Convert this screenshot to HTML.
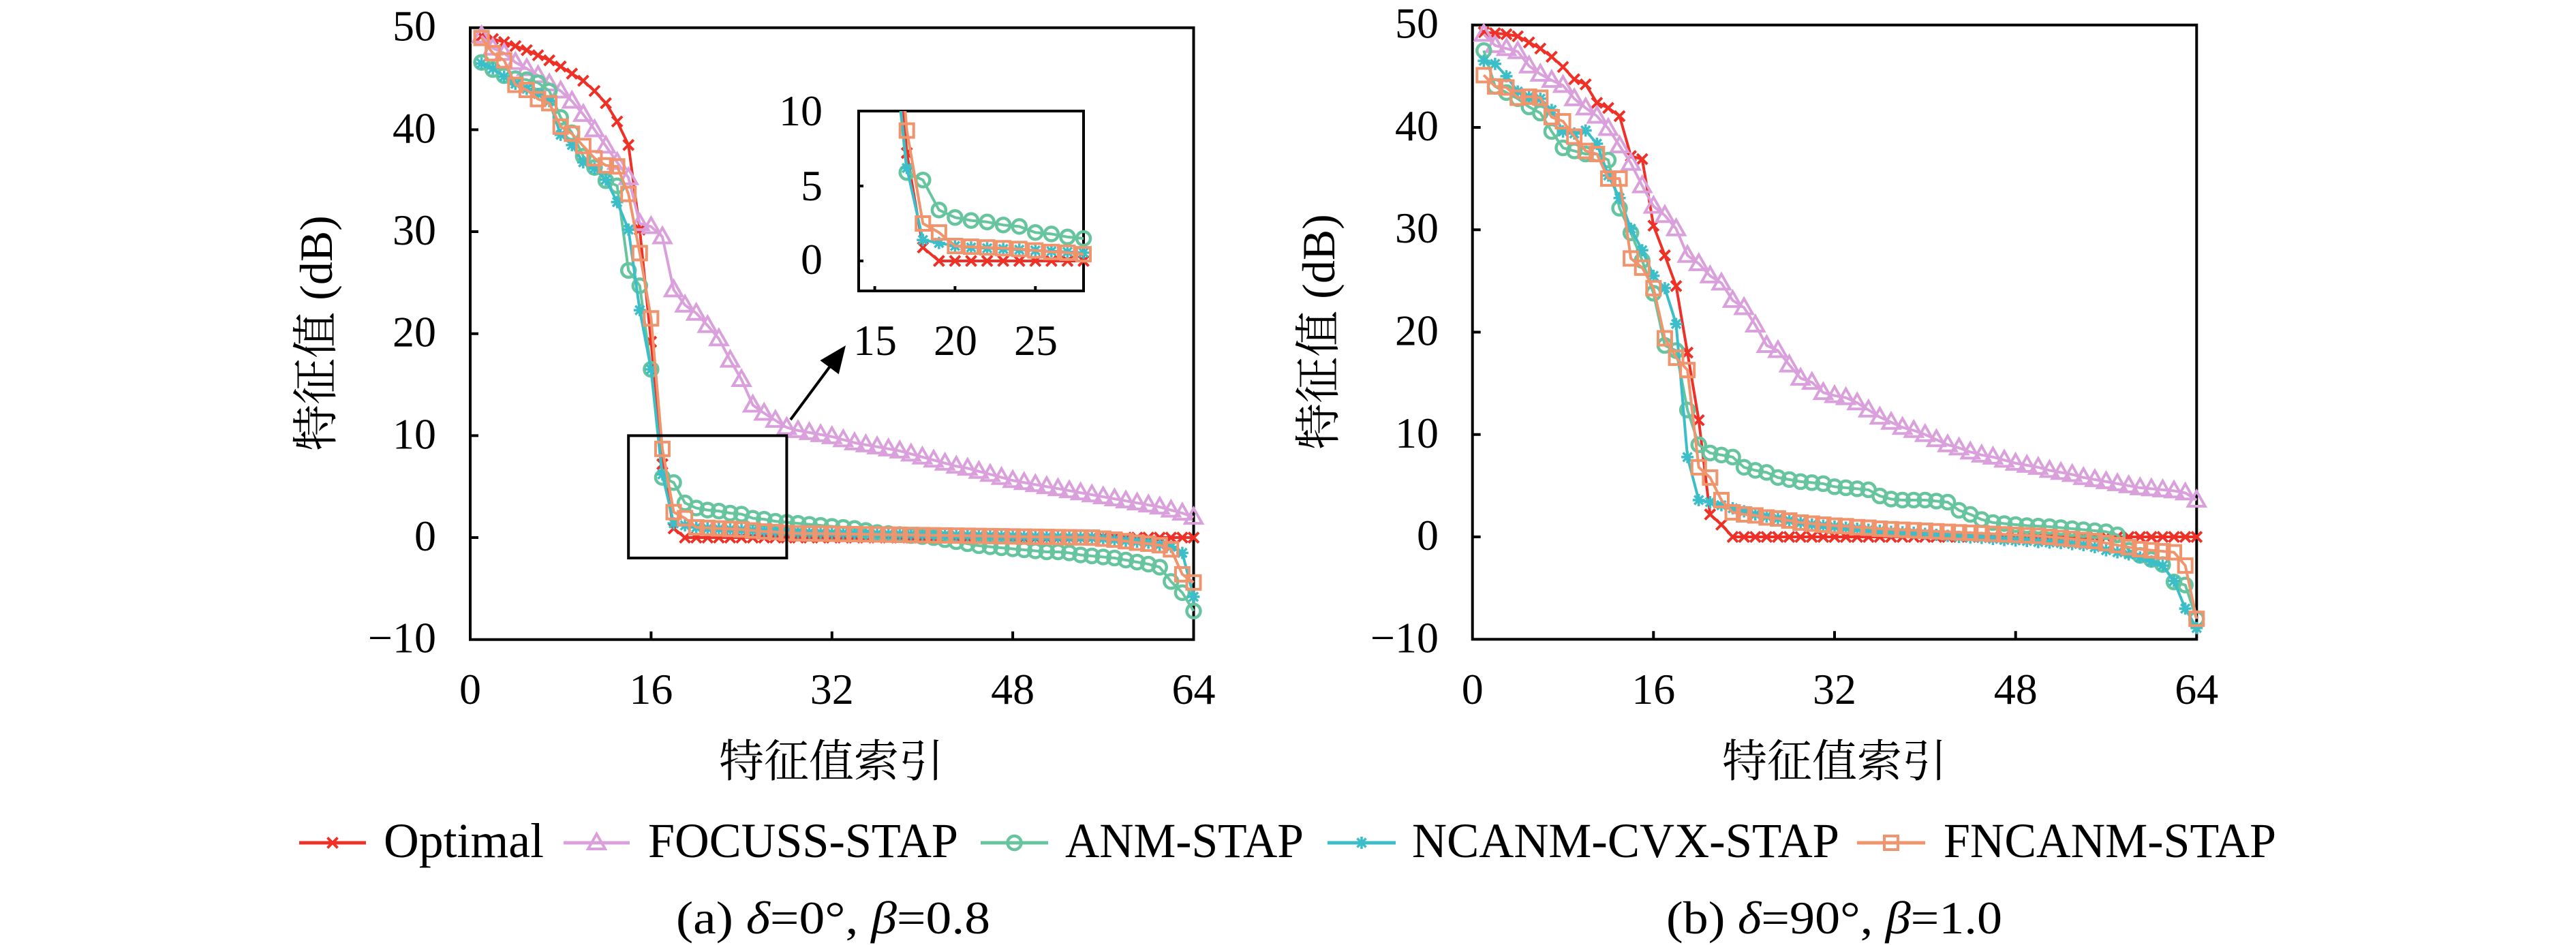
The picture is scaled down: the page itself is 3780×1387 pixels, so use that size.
<!DOCTYPE html>
<html><head><meta charset="utf-8">
<style>
html,body{margin:0;padding:0;background:#fff;}
svg{display:block;}
</style></head><body>
<svg id="s" xmlns="http://www.w3.org/2000/svg" width="3780" height="1387" viewBox="0 0 3780 1387" font-family="'Liberation Serif', serif">
<defs><clipPath id="ci"><rect x="1260" y="163" width="330" height="264"/></clipPath></defs>
<rect width="3780" height="1387" fill="#fff"/>

<!-- Left axes -->
<g stroke="#000" stroke-width="4" fill="none">
<rect x="690" y="40.7" width="1061.5" height="898"/>
<path d="M690 190.4h12M690 340h12M690 489.7h12M690 639.4h12M690 789h12"/>
<path d="M955.4 938.7v-12M1220.8 938.7v-12M1486.1 938.7v-12"/>
</g>
<g font-size="64" text-anchor="end" font-family="'Liberation Serif', serif">
<text x="640" y="59.7" font-family="'Liberation Serif', serif">50</text><text x="640" y="209.4" font-family="'Liberation Serif', serif">40</text><text x="640" y="359" font-family="'Liberation Serif', serif">30</text>
<text x="640" y="508.7" font-family="'Liberation Serif', serif">20</text><text x="640" y="658.4" font-family="'Liberation Serif', serif">10</text><text x="640" y="808" font-family="'Liberation Serif', serif">0</text>
<text x="640" y="957.7" font-family="'Liberation Serif', serif">−10</text>
</g>
<g font-size="64" text-anchor="middle" font-family="'Liberation Serif', serif">
<text x="690" y="1033" font-family="'Liberation Serif', serif">0</text><text x="955.4" y="1033" font-family="'Liberation Serif', serif">16</text><text x="1220.8" y="1033" font-family="'Liberation Serif', serif">32</text>
<text x="1486.1" y="1033" font-family="'Liberation Serif', serif">48</text><text x="1751.5" y="1033" font-family="'Liberation Serif', serif">64</text>
</g>
<g id="gA"></g>

<!-- Right axes -->
<g stroke="#000" stroke-width="4" fill="none">
<rect x="2160.7" y="36.7" width="1062.6" height="901.6"/>
<path d="M2160.7 187h12M2160.7 337.2h12M2160.7 487.5h12M2160.7 637.8h12M2160.7 788h12"/>
<path d="M2426.3 938.3v-12M2692 938.3v-12M2957.7 938.3v-12"/>
</g>
<g font-size="64" text-anchor="end" font-family="'Liberation Serif', serif">
<text x="2111" y="55.7" font-family="'Liberation Serif', serif">50</text><text x="2111" y="206" font-family="'Liberation Serif', serif">40</text><text x="2111" y="356.2" font-family="'Liberation Serif', serif">30</text>
<text x="2111" y="506.5" font-family="'Liberation Serif', serif">20</text><text x="2111" y="656.8" font-family="'Liberation Serif', serif">10</text><text x="2111" y="807" font-family="'Liberation Serif', serif">0</text>
<text x="2111" y="957.3" font-family="'Liberation Serif', serif">−10</text>
</g>
<g font-size="64" text-anchor="middle" font-family="'Liberation Serif', serif">
<text x="2160.7" y="1033" font-family="'Liberation Serif', serif">0</text><text x="2426.3" y="1033" font-family="'Liberation Serif', serif">16</text><text x="2692" y="1033" font-family="'Liberation Serif', serif">32</text>
<text x="2957.7" y="1033" font-family="'Liberation Serif', serif">48</text><text x="3223.3" y="1033" font-family="'Liberation Serif', serif">64</text>
</g>
<g id="gB"></g>

<!-- Inset -->
<rect x="1260" y="163" width="330" height="264" fill="#fff"/>
<g stroke="#000" stroke-width="4" fill="none">
<rect x="1260" y="163" width="330" height="264"/>
<path d="M1283.6 427v-7M1401.4 427v-7M1519.3 427v-7M1260 383h7M1260 273h7"/>
</g>
<g font-size="64" text-anchor="end" font-family="'Liberation Serif', serif">
<text x="1207" y="184" font-family="'Liberation Serif', serif">10</text><text x="1207" y="294" font-family="'Liberation Serif', serif">5</text><text x="1207" y="402" font-family="'Liberation Serif', serif">0</text>
</g>
<g font-size="64" text-anchor="middle" font-family="'Liberation Serif', serif">
<text x="1284" y="521" font-family="'Liberation Serif', serif">15</text><text x="1402" y="521" font-family="'Liberation Serif', serif">20</text><text x="1520" y="521" font-family="'Liberation Serif', serif">25</text>
</g>
<g id="gI"></g>

<!-- zoom rect and arrow -->
<rect x="922.2" y="639.4" width="232.2" height="179.6" fill="none" stroke="#000" stroke-width="4"/>
<line x1="1160" y1="616" x2="1220" y2="535" stroke="#000" stroke-width="4"/>
<polygon points="1241,507 1230.75,549.24 1203.45,528.96" fill="#000"/>

<!-- axis labels -->
<text x="1220" y="1140" font-size="66" text-anchor="middle" font-family="'Liberation Serif', 'Noto Serif CJK SC', serif">特征值索引</text>
<text x="2692" y="1140" font-size="66" text-anchor="middle" font-family="'Liberation Serif', 'Noto Serif CJK SC', serif">特征值索引</text>
<text transform="translate(462,489) rotate(-90)" x="0" y="25" font-size="68" text-anchor="middle" font-family="'Liberation Serif', 'Noto Serif CJK SC', serif">特征值 (dB)</text>
<text transform="translate(1933,487) rotate(-90)" x="0" y="25" font-size="68" text-anchor="middle" font-family="'Liberation Serif', 'Noto Serif CJK SC', serif">特征值 (dB)</text>

<!-- legend -->
<g stroke-width="5">
<line x1="439" y1="1237" x2="537" y2="1237" stroke="#ee3026"/>
<line x1="827" y1="1237" x2="924" y2="1237" stroke="#d9a0db"/>
<line x1="1439" y1="1237" x2="1538" y2="1237" stroke="#66c49e"/>
<line x1="1948" y1="1237" x2="2048" y2="1237" stroke="#3bbec8"/>
<line x1="2725" y1="1237" x2="2825" y2="1237" stroke="#ef946c"/>
</g>
<g id="gL"></g>
<g font-size="72" font-family="'Liberation Serif', serif">
<text x="563" y="1258" textLength="235" lengthAdjust="spacingAndGlyphs" font-family="'Liberation Serif', serif">Optimal</text>
<text x="951" y="1258" textLength="455" lengthAdjust="spacingAndGlyphs" font-family="'Liberation Serif', serif">FOCUSS-STAP</text>
<text x="1563" y="1258" textLength="350" lengthAdjust="spacingAndGlyphs" font-family="'Liberation Serif', serif">ANM-STAP</text>
<text x="2072" y="1258" textLength="627" lengthAdjust="spacingAndGlyphs" font-family="'Liberation Serif', serif">NCANM-CVX-STAP</text>
<text x="2852" y="1258" textLength="488" lengthAdjust="spacingAndGlyphs" font-family="'Liberation Serif', serif">FNCANM-STAP</text>
</g>

<!-- captions -->
<text x="992" y="1370" font-size="68" textLength="461" lengthAdjust="spacingAndGlyphs" font-family="'Liberation Serif', serif">(a) <tspan font-style="italic">δ</tspan>=0°, <tspan font-style="italic">β</tspan>=0.8</text>
<text x="2445" y="1370" font-size="68" textLength="493" lengthAdjust="spacingAndGlyphs" font-family="'Liberation Serif', serif">(b) <tspan font-style="italic">δ</tspan>=90°, <tspan font-style="italic">β</tspan>=1.0</text>
</svg>

<script>
(function(){
var NS='http://www.w3.org/2000/svg';
function mk(tag,a,p){var e=document.createElementNS(NS,tag);for(var k in a)e.setAttribute(k,a[k]);p.appendChild(e);return e;}
function lin(a,b,n){var r=[];for(var i=0;i<n;i++)r.push(a+(b-a)*i/(n-1));return r;}
function z(n){var r=[];for(var i=0;i<n;i++)r.push(0);return r;}
var C={x:'#ee3026',t:'#d9a0db',o:'#66c49e',a:'#3bbec8',s:'#ef946c'};
function marker(g,type,x,y){
  var col=C[type];
  if(type==='x'){var s=7.5;mk('path',{d:'M'+(x-s)+' '+(y-s)+'L'+(x+s)+' '+(y+s)+'M'+(x-s)+' '+(y+s)+'L'+(x+s)+' '+(y-s),stroke:col,'stroke-width':4,fill:'none'},g);}
  else if(type==='t'){mk('path',{d:'M'+x+' '+(y-13)+'L'+(x+12.5)+' '+(y+9)+'L'+(x-12.5)+' '+(y+9)+'Z',stroke:col,'stroke-width':4,fill:'none'},g);}
  else if(type==='o'){mk('circle',{cx:x,cy:y,r:10,stroke:col,'stroke-width':4.5,fill:'none'},g);}
  else if(type==='a'){var s2=9,d=6.5;mk('path',{d:'M'+(x-s2)+' '+y+'H'+(x+s2)+'M'+x+' '+(y-s2)+'V'+(y+s2)+'M'+(x-d)+' '+(y-d)+'L'+(x+d)+' '+(y+d)+'M'+(x-d)+' '+(y+d)+'L'+(x+d)+' '+(y-d),stroke:col,'stroke-width':3.5,fill:'none'},g);}
  else if(type==='s'){var s3=10;mk('rect',{x:x-s3,y:y-s3,width:2*s3,height:2*s3,stroke:col,'stroke-width':4,fill:'none'},g);}
}
var A={
 x:[49.2,48.9,48.6,48.2,47.8,47.3,46.8,46.2,45.5,44.8,43.8,42.6,40.8,38.5,30.2,19.2,7.2,0.9].concat(z(46)),
 t:[49.2,48.0,47.5,46.6,46.0,45.3,44.5,43.8,42.8,41.5, 40.0,38.4,36.8,35.3,30.8,30.5,29.5,24.3,22.8,22.0, 20.8,19.5,17.4,15.5,13.0,12.2,11.5,10.8,10.5,10.3, 10.1,9.9,9.6,9.3,9.1,8.9,8.7,8.5,8.2,7.9, 7.6,7.3,7.0,6.8,6.5,6.2,5.9,5.6,5.4,5.2, 5.0,4.8,4.6,4.4,4.2,4.0,3.8,3.6,3.4,3.2, 3.0,2.7,2.4,2.0],
 o:[46.6,45.9,45.3,45.0,44.9,44.6,43.8,41.2,39.7,37.4, 36.3,35.0,34.5,26.2,24.7,16.5,5.9,5.4,3.4,2.9, 2.7,2.6,2.4,2.3,1.9,1.8,1.6,1.5,1.4,1.3, 1.2,1.1,1.0,0.9,0.7,0.5,0.4,0.3,0.2,0.1, 0.0,-0.2,-0.4,-0.6,-0.8,-0.9,-1.0,-1.1,-1.2,-1.3, -1.4,-1.4,-1.5,-1.7,-1.8,-1.9,-2.0,-2.2,-2.4,-2.6, -2.9,-4.3,-5.4,-7.2],
 a:[46.5,46.0,45.2,44.5,44.0,43.5,42.8,39.5,38.5,36.8,36.2,35.1,32.9,30.2,22.3,16.5,6.2,1.4,1.2,1.0,0.9,0.85,0.8,0.75,0.7,0.65,0.6,0.55].concat(lin(0.5,0.0,27),[-0.1,-0.2,-0.3,-0.4,-0.5,-0.7,-0.9,-1.5,-5.8]),
 s:[49.0,47.5,46.8,44.4,43.9,43.0,42.6,40.3,39.6,38.4,37.2,36.5,36.4,33.7,27.9,21.5,8.7,2.5,1.9,1.0,0.95,0.9,0.85,0.8,0.7,0.6,0.55,0.45].concat(lin(0.42,0.0,27),[-0.1,-0.2,-0.35,-0.5,-0.6,-0.75,-1.15,-3.6,-4.4])
};
var B={
 x:[49.3,49.2,49.1,48.9,48.3,47.7,46.9,45.9,44.7,44.2, 42.4,41.9,41.1,37.2,36.9,30.4,27.5,24.5,18.0,11.4, 2.2,1.2].concat(z(42)),
 t:[49.1,48.0,47.7,47.4,46.0,45.2,44.6,44.1,42.8,41.9, 41.1,39.9,38.2,36.5,34.3,32.3,31.4,30.1,27.5,26.7, 25.5,24.8,23.1,22.4,20.7,18.7,18.2,16.8,15.5,15.1, 14.1,13.8,13.6,13.1,12.4,11.7,11.2,10.7,10.4,10.0, 9.5,9.0,8.7,8.3,8.0,7.8,7.5,7.2,7.0,6.8, 6.5,6.3,6.1,5.8,5.6,5.4,5.2,5.0,4.8,4.7, 4.6,4.5,4.3,3.6],
 o:[47.5,44.0,43.4,42.8,42.0,41.4,39.6,38.0,37.7,37.4, 37.4,36.8,32.1,29.7,27.0,23.8,18.7,18.2,12.4,9.0, 8.2,8.0,7.8,6.8,6.5,6.3,5.8,5.6,5.4,5.3, 5.2,4.9,4.8,4.7,4.6,4.0,3.7,3.6,3.6,3.6, 3.5,3.4,2.6,2.2,1.7,1.4,1.3,1.2,1.1,1.05, 1.0,0.9,0.8,0.7,0.6,0.5,0.2,-1.3,-1.8,-2.2, -2.7,-4.4,-4.7,-8.0],
 a:[46.5,46.2,45.0,43.5,43.0,42.8,41.7,39.6,39.4,39.7, 38.4,35.3,33.1,30.1,28.0,25.5,24.3,20.8,7.8,3.6, 3.4,3.1,2.8,2.5,2.2,2.0,1.8,1.6,1.4,1.2, 1.1,1.0,0.9,0.8,0.7,0.6,0.5,0.45,0.4,0.3, 0.2,0.1,0.0,-0.05,-0.1,-0.2,-0.3,-0.35,-0.4,-0.5, -0.55,-0.6,-0.7,-0.8,-1.0,-1.3,-1.5,-1.7,-2.0,-2.4, -2.8,-4.3,-7.0,-8.9],
 s:[45.1,44.0,43.9,42.9,43.0,42.9,41.0,40.6,39.1,37.7, 37.4,35.0,35.0,27.2,26.3,24.3,19.4,17.5,16.3,6.8, 5.8,3.6,2.4,2.2,2.1,1.9,1.8,1.6,1.4,1.3, 1.2,1.1,1.05,0.95,0.9,0.8,0.75,0.7,0.65,0.6, 0.55,0.5,0.45,0.4,0.35,0.3,0.25,0.2,0.15,0.1, 0.0,-0.1,-0.2,-0.3,-0.4,-0.6,-0.8,-1.0,-1.2,-1.3, -1.4,-1.5,-2.8,-8.0]
};
function draw(g,D,X,Y,clip,filt){
  ['x','t','o','a','s'].forEach(function(k){
    var v=D[k],pts=[],str=[];
    for(var i=0;i<v.length;i++){var px=X(i+1),py=Y(v[i]);pts.push([px,py,i+1,v[i]]);str.push(px.toFixed(2)+','+py.toFixed(2));}
    var a={points:str.join(' '),fill:'none',stroke:C[k],'stroke-width':4,'stroke-linejoin':'round'};
    if(clip)a['clip-path']='url(#'+clip+')';
    mk('polyline',a,g);
    pts.forEach(function(p){if(!filt||filt(p[2],p[3]))marker(g,k,p[0],p[1]);});
  });
}
var gA=document.getElementById('gA'),gB=document.getElementById('gB'),gI=document.getElementById('gI'),gL=document.getElementById('gL');
draw(gA,A,function(x){return 690+x*16.586;},function(v){return 40.7+(50-v)*14.967;});
draw(gB,B,function(x){return 2160.7+x*16.603;},function(v){return 36.7+(50-v)*15.027;});
draw(gI,A,function(x){return 1260+(x-14)*23.571;},function(v){return 163+(10-v)*22;},'ci',function(x,v){return x>=14&&x<=28&&v>=-2&&v<=10;});
marker(gL,'x',488,1237);marker(gL,'t',875.5,1237);marker(gL,'o',1488.5,1237);marker(gL,'a',1998,1237);marker(gL,'s',2775,1237);
})();
</script>
</body></html>
